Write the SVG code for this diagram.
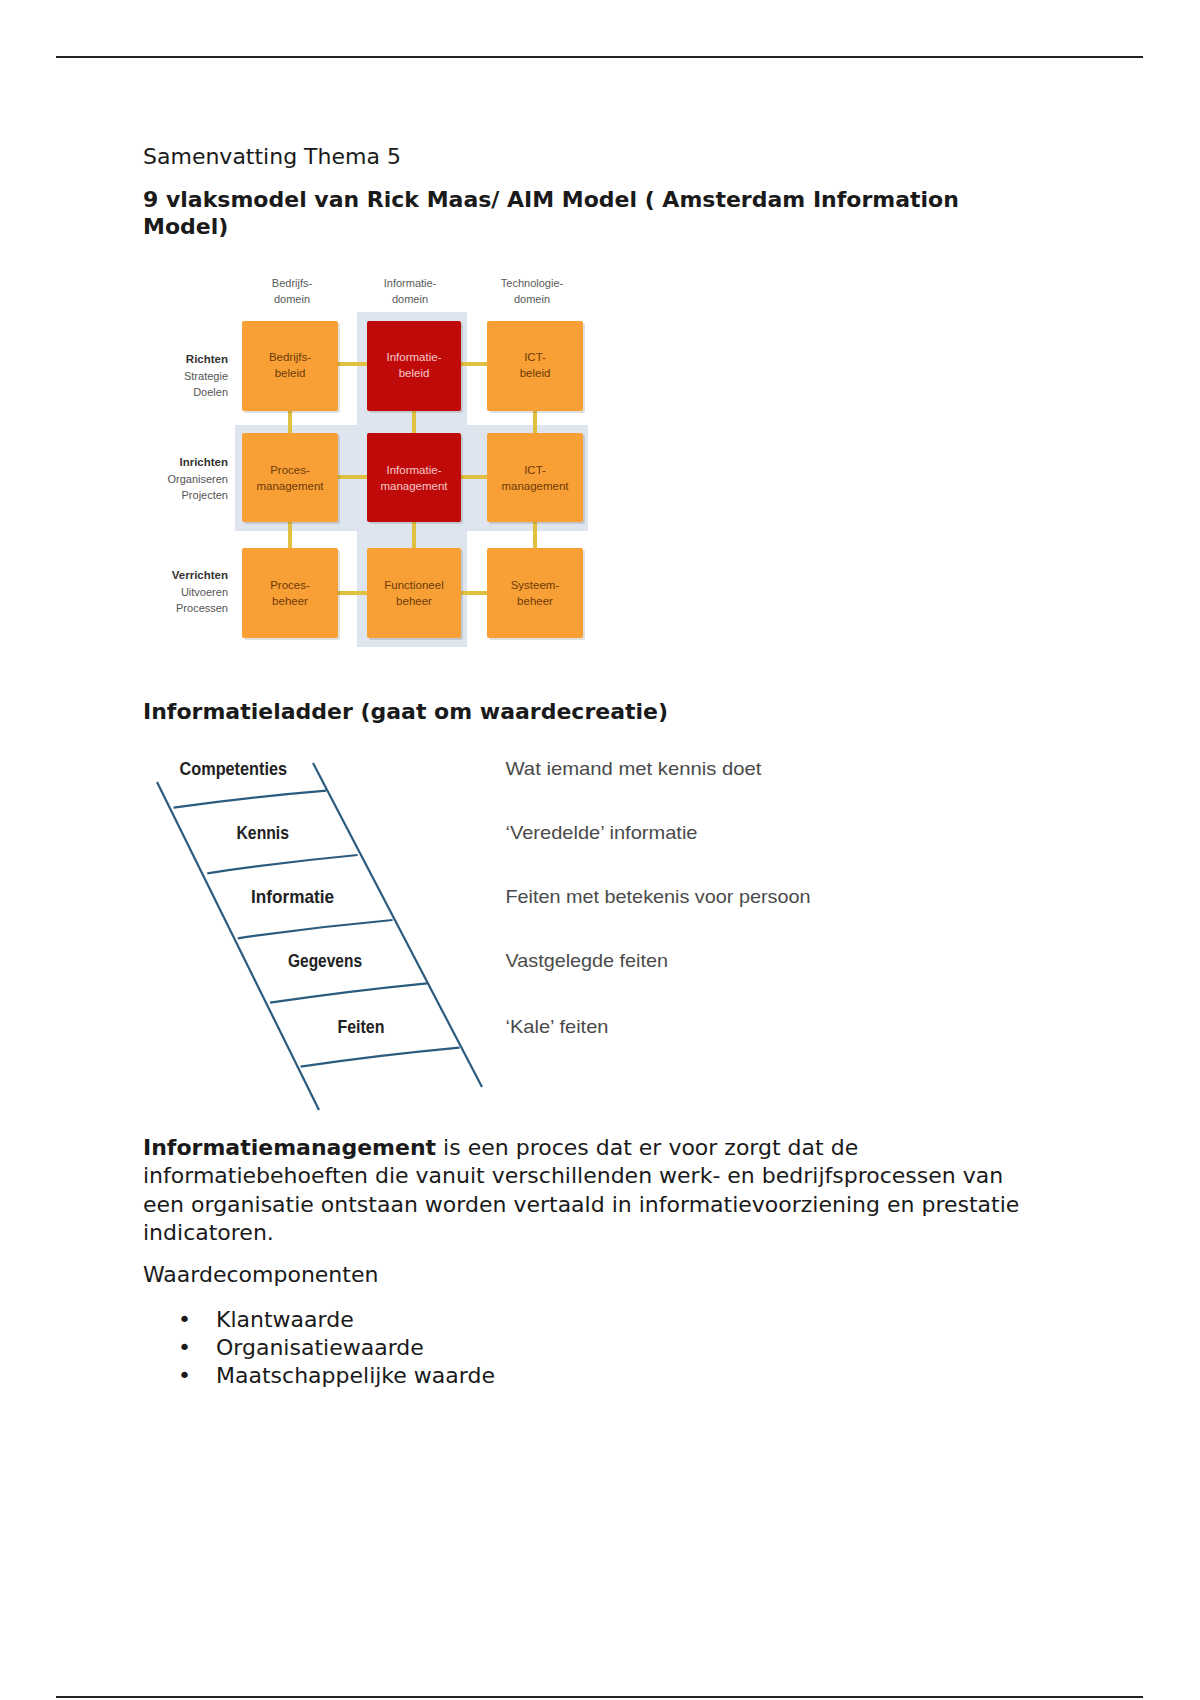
<svg xmlns="http://www.w3.org/2000/svg" width="1200" height="1700" viewBox="0 0 1200 1700">
<style>
.body{font-family:"DejaVu Sans","Liberation Sans",sans-serif;font-size:22px;fill:#1a1a1a}
.b{font-weight:bold}
.hdr{font-family:"Liberation Sans",Arial,sans-serif;font-size:11px;fill:#5a5a5a;text-anchor:middle}
.rowb{font-family:"Liberation Sans",Arial,sans-serif;font-size:11.5px;font-weight:bold;fill:#333;text-anchor:end}
.rowr{font-family:"Liberation Sans",Arial,sans-serif;font-size:11px;fill:#555;text-anchor:end}
.orng{fill:#f8a035}
.red{fill:#c00a0a}
.shadow{fill:#000;opacity:0.12}
.bt{font-family:"Liberation Sans",Arial,sans-serif;font-size:11.5px;text-anchor:middle}
.bto{fill:#6e3a08}
.btr{fill:#f6c8c8}
.band{fill:#dfe5ee}
.conn{stroke:#e0c040;stroke-width:4;fill:none}
.rail{stroke:#2b5b7e;stroke-width:2.2;fill:none}
.ll{font-family:"Liberation Sans",Arial,sans-serif;font-size:19px;font-weight:bold;fill:#222}
.lr{font-family:"Liberation Sans",Arial,sans-serif;font-size:19px;fill:#4a4a4a}
</style>
<rect width="1200" height="1700" fill="#fff"/>
<line x1="56" y1="57" x2="1143" y2="57" stroke="#222" stroke-width="2.2"/>
<line x1="56" y1="1697" x2="1143" y2="1697" stroke="#222" stroke-width="2.2"/>

<text class="body" x="143" y="164">Samenvatting Thema 5</text>
<text class="body b" x="143" y="206.5">9 vlaksmodel van Rick Maas/ AIM Model ( Amsterdam Information</text>
<text class="body b" x="143" y="233.5">Model)</text>

<!-- 9-vlaksmodel -->
<g id="aim-model">
<rect class="band" x="357" y="312" width="110" height="335"/>
<rect class="band" x="235" y="425" width="353" height="106"/>

<g id="headers">
<text class="hdr" x="292" y="287">Bedrijfs-</text>
<text class="hdr" x="292" y="303">domein</text>
<text class="hdr" x="410" y="287">Informatie-</text>
<text class="hdr" x="410" y="303">domein</text>
<text class="hdr" x="532" y="287">Technologie-</text>
<text class="hdr" x="532" y="303">domein</text>
</g>
<g id="rowlabels">
<text class="rowb" x="228" y="363">Richten</text>
<text class="rowr" x="228" y="380">Strategie</text>
<text class="rowr" x="228" y="396">Doelen</text>
<text class="rowb" x="228" y="466">Inrichten</text>
<text class="rowr" x="228" y="483">Organiseren</text>
<text class="rowr" x="228" y="499">Projecten</text>
<text class="rowb" x="228" y="579">Verrichten</text>
<text class="rowr" x="228" y="596">Uitvoeren</text>
<text class="rowr" x="228" y="612">Processen</text>
</g>

<g id="connectors">
<line class="conn" x1="338" y1="364" x2="367" y2="364"/>
<line class="conn" x1="461" y1="364" x2="487" y2="364"/>
<line class="conn" x1="338" y1="477" x2="367" y2="477"/>
<line class="conn" x1="461" y1="477" x2="487" y2="477"/>
<line class="conn" x1="338" y1="593" x2="367" y2="593"/>
<line class="conn" x1="461" y1="593" x2="487" y2="593"/>
<line class="conn" x1="290" y1="411" x2="290" y2="433"/>
<line class="conn" x1="414" y1="411" x2="414" y2="433"/>
<line class="conn" x1="535" y1="411" x2="535" y2="433"/>
<line class="conn" x1="290" y1="522" x2="290" y2="548"/>
<line class="conn" x1="414" y1="522" x2="414" y2="548"/>
<line class="conn" x1="535" y1="522" x2="535" y2="548"/>
</g>

<g id="bedrijfsbeleid">
<rect class="shadow" x="244" y="323" width="96" height="90" rx="2"/>
<rect class="orng" x="242" y="321" width="96" height="90" rx="2"/>
<text class="bt bto" x="290" y="361">Bedrijfs-</text>
<text class="bt bto" x="290" y="377">beleid</text>
</g>
<g id="informatiebeleid">
<rect class="shadow" x="369" y="323" width="94" height="90" rx="2"/>
<rect class="red" x="367" y="321" width="94" height="90" rx="2"/>
<text class="bt btr" x="414" y="361">Informatie-</text>
<text class="bt btr" x="414" y="377">beleid</text>
</g>
<g id="ict-beleid">
<rect class="shadow" x="489" y="323" width="96" height="90" rx="2"/>
<rect class="orng" x="487" y="321" width="96" height="90" rx="2"/>
<text class="bt bto" x="535" y="361">ICT-</text>
<text class="bt bto" x="535" y="377">beleid</text>
</g>
<g id="procesmanagement">
<rect class="shadow" x="244" y="435" width="96" height="89" rx="2"/>
<rect class="orng" x="242" y="433" width="96" height="89" rx="2"/>
<text class="bt bto" x="290" y="474">Proces-</text>
<text class="bt bto" x="290" y="490">management</text>
</g>
<g id="informatiemanagement">
<rect class="shadow" x="369" y="435" width="94" height="89" rx="2"/>
<rect class="red" x="367" y="433" width="94" height="89" rx="2"/>
<text class="bt btr" x="414" y="474">Informatie-</text>
<text class="bt btr" x="414" y="490">management</text>
</g>
<g id="ict-management">
<rect class="shadow" x="489" y="435" width="96" height="89" rx="2"/>
<rect class="orng" x="487" y="433" width="96" height="89" rx="2"/>
<text class="bt bto" x="535" y="474">ICT-</text>
<text class="bt bto" x="535" y="490">management</text>
</g>
<g id="procesbeheer">
<rect class="shadow" x="244" y="550" width="96" height="90" rx="2"/>
<rect class="orng" x="242" y="548" width="96" height="90" rx="2"/>
<text class="bt bto" x="290" y="589">Proces-</text>
<text class="bt bto" x="290" y="605">beheer</text>
</g>
<g id="functioneelbeheer">
<rect class="shadow" x="369" y="550" width="94" height="90" rx="2"/>
<rect class="orng" x="367" y="548" width="94" height="90" rx="2"/>
<text class="bt bto" x="414" y="589">Functioneel</text>
<text class="bt bto" x="414" y="605">beheer</text>
</g>
<g id="systeembeheer">
<rect class="shadow" x="489" y="550" width="96" height="90" rx="2"/>
<rect class="orng" x="487" y="548" width="96" height="90" rx="2"/>
<text class="bt bto" x="535" y="589">Systeem-</text>
<text class="bt bto" x="535" y="605">beheer</text>
</g>
</g>

<text class="body b" x="143" y="718.5">Informatieladder (gaat om waardecreatie)</text>

<!-- Ladder -->
<g id="ladder">
<line class="rail" x1="157" y1="782" x2="319" y2="1110"/>
<line class="rail" x1="313" y1="763" x2="482" y2="1087"/>
<path class="rail" d="M173.6,807.7 Q250,797 326.2,790.7"/>
<path class="rail" d="M207.3,873.3 Q283,862 357.6,855"/>
<path class="rail" d="M237.8,938.3 Q315,927 392.6,920"/>
<path class="rail" d="M270,1002.7 Q348,991 427,983.3"/>
<path class="rail" d="M300.6,1066.7 Q380,1055 459.4,1047.7"/>
</g>
<g id="rung-competenties">
<text class="ll" x="179.5" y="775" textLength="107.5" lengthAdjust="spacingAndGlyphs">Competenties</text>
<text class="lr" x="505.5" y="775" textLength="256" lengthAdjust="spacingAndGlyphs">Wat iemand met kennis doet</text>
</g>
<g id="rung-kennis">
<text class="ll" x="236.5" y="839" textLength="52.5" lengthAdjust="spacingAndGlyphs">Kennis</text>
<text class="lr" x="505.5" y="839" textLength="192" lengthAdjust="spacingAndGlyphs">‘Veredelde’ informatie</text>
</g>
<g id="rung-informatie">
<text class="ll" x="251" y="902.5" textLength="83" lengthAdjust="spacingAndGlyphs">Informatie</text>
<text class="lr" x="505.5" y="902.5" textLength="305" lengthAdjust="spacingAndGlyphs">Feiten met betekenis voor persoon</text>
</g>
<g id="rung-gegevens">
<text class="ll" x="288" y="966.5" textLength="74" lengthAdjust="spacingAndGlyphs">Gegevens</text>
<text class="lr" x="505.5" y="966.5" textLength="162.5" lengthAdjust="spacingAndGlyphs">Vastgelegde feiten</text>
</g>
<g id="rung-feiten">
<text class="ll" x="337.5" y="1033" textLength="47" lengthAdjust="spacingAndGlyphs">Feiten</text>
<text class="lr" x="505.5" y="1033" textLength="103" lengthAdjust="spacingAndGlyphs">‘Kale’ feiten</text>
</g>

<text class="body" x="143" y="1155"><tspan class="b">Informatiemanagement</tspan> is een proces dat er voor zorgt dat de</text>
<text class="body" x="143" y="1183.3">informatiebehoeften die vanuit verschillenden werk- en bedrijfsprocessen van</text>
<text class="body" x="143" y="1211.7">een organisatie ontstaan worden vertaald in informatievoorziening en prestatie</text>
<text class="body" x="143" y="1240">indicatoren.</text>
<text class="body" x="143" y="1281.5">Waardecomponenten</text>
<text class="body" x="178" y="1326.7">•</text>
<text class="body" x="216" y="1326.7">Klantwaarde</text>
<text class="body" x="178" y="1355">•</text>
<text class="body" x="216" y="1355">Organisatiewaarde</text>
<text class="body" x="178" y="1383.3">•</text>
<text class="body" x="216" y="1383.3">Maatschappelijke waarde</text>
</svg>
